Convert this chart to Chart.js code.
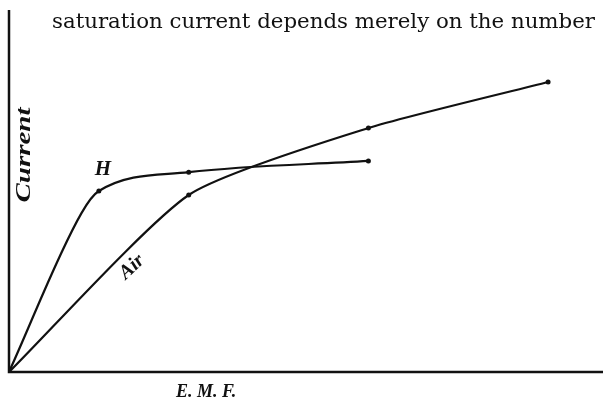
<!DOCTYPE html>
<html>
<head>
<meta charset="utf-8">
<script src="https://cdn.jsdelivr.net/npm/chart.js@4/dist/chart.umd.min.js"></script>
<style>
html,body{margin:0;padding:0;background:#fff;}
#wrap{position:relative;width:603px;height:399px;}
canvas{display:block;}
</style>
</head>
<body>
<div id="wrap"><canvas id="c" width="603" height="399"></canvas></div>
<script>
// Values (arbitrary units: E.M.F. on x, Current on y).
const hX = [0, 12.1, 15, 30, 60];
const hY = [0, 43.9, 50, 55.2, 58.3];
const hDot = [false, false, true, true, true];
const airX = [0, 30, 60, 90];
const airY = [0, 48.9, 67.4, 80.1];
const airDot = [false, true, true, true];

const headerText = 'saturation current depends merely on the number';
const yTitle = 'Current';
const xTitle = 'E. M. F.';
const hLabel = 'H';
const airLabel = 'Air';

const ink = '#111';
const DOT = 2.5;

const decor = {
  id: 'decor',
  beforeDatasetsDraw(chart) {
    const ctx = chart.ctx;
    const a = chart.chartArea;
    ctx.save();
    ctx.strokeStyle = ink;
    ctx.lineWidth = 2.5;
    ctx.lineCap = 'butt';
    ctx.beginPath();
    ctx.moveTo(a.left, a.top);
    ctx.lineTo(a.left, a.bottom);
    ctx.lineTo(chart.width, a.bottom);
    ctx.stroke();
    ctx.restore();
  },
  afterDatasetsDraw(chart) {
    const ctx = chart.ctx;
    ctx.save();
    ctx.fillStyle = ink;
    // header line of book text
    ctx.font = '21px "DejaVu Serif", serif';
    let w = ctx.measureText(headerText).width;
    ctx.save();
    ctx.translate(52, 28);
    ctx.scale(543 / w, 1);
    ctx.textBaseline = 'alphabetic';
    ctx.fillText(headerText, 0, 0);
    ctx.restore();

    // y title rotated
    ctx.save();
    ctx.font = 'italic bold 20px "Liberation Serif", serif';
    ctx.translate(25, 155);
    ctx.rotate(-Math.PI / 2);
    ctx.textAlign = 'center';
    ctx.textBaseline = 'middle';
    w = ctx.measureText(yTitle).width;
    ctx.scale(95 / w, 1);
    ctx.fillText(yTitle, 0, 0);
    ctx.restore();

    // x title
    ctx.save();
    ctx.font = 'italic bold 18px "Liberation Serif", serif';
    ctx.textAlign = 'left';
    ctx.textBaseline = 'alphabetic';
    ctx.fillText(xTitle, 176, 397);
    ctx.restore();

    // curve labels
    ctx.save();
    ctx.font = 'italic bold 21px "Liberation Serif", serif';
    ctx.textAlign = 'center';
    ctx.textBaseline = 'middle';
    ctx.fillText(hLabel, 103, 170);
    ctx.restore();

    ctx.save();
    ctx.font = 'italic bold 20px "Liberation Serif", serif';
    ctx.translate(132, 267);
    ctx.rotate(-0.75);
    ctx.textAlign = 'center';
    ctx.textBaseline = 'middle';
    ctx.fillText(airLabel, 0, 0);
    ctx.restore();

    ctx.restore();
  }
};

const toPts = (xs, ys) => xs.map((x, i) => ({x: x, y: ys[i]}));

new Chart(document.getElementById('c'), {
  type: 'line',
  data: {
    datasets: [
      {
        label: 'H',
        data: toPts(hX, hY),
        borderColor: ink,
        backgroundColor: ink,
        borderWidth: 2.2,
        pointRadius: hDot.map(d => d ? DOT : 0),
        pointBorderWidth: 0,
        cubicInterpolationMode: 'monotone',
        fill: false
      },
      {
        label: 'Air',
        data: toPts(airX, airY),
        borderColor: ink,
        backgroundColor: ink,
        borderWidth: 2.2,
        pointRadius: airDot.map(d => d ? DOT : 0),
        pointBorderWidth: 0,
        tension: 0.2,
        fill: false
      }
    ]
  },
  options: {
    responsive: false,
    animation: false,
    devicePixelRatio: 1,
    layout: { padding: { left: 9, top: 10, right: 0, bottom: 27 } },
    plugins: { legend: { display: false }, tooltip: { enabled: false } },
    scales: {
      x: { type: 'linear', display: false, min: 0, max: 98.5 },
      y: { type: 'linear', display: false, min: 0, max: 100 }
    }
  },
  plugins: [decor]
});
</script>
</body>
</html>
